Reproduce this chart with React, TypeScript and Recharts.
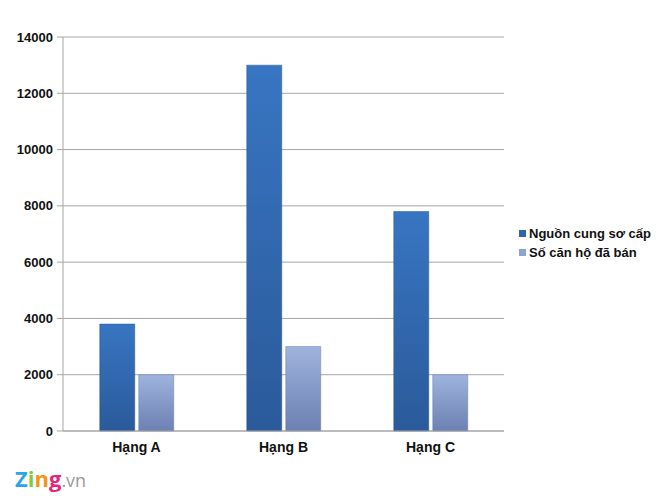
import React from "react";
import { BarChart, Bar, XAxis, YAxis, CartesianGrid, Legend } from "recharts";

const categories = ["Hạng A", "Hạng B", "Hạng C"];
const supply = [3800, 13000, 7800];
const sold = [2000, 3000, 2000];
const yTicks = [0, 2000, 4000, 6000, 8000, 10000, 12000, 14000];
const seriesNames = ["Nguồn cung sơ cấp", "Số căn hộ đã bán"];

const data = categories.map((c, i) => ({ name: c, supply: supply[i], sold: sold[i] }));

const FONT = "'Liberation Sans', Arial, sans-serif";

const LegendContent = () => (
  <div style={{ fontFamily: FONT, fontWeight: "bold", fontSize: 13, color: "#111" }}>
    {seriesNames.map((n, i) => (
      <div key={n} style={{ display: "flex", alignItems: "center", height: 19 }}>
        <span
          style={{
            display: "inline-block",
            width: 7,
            height: 7,
            marginRight: 3,
            background: i === 0 ? "#2f65ad" : "#8ea3d3",
          }}
        />
        {n}
      </div>
    ))}
  </div>
);

export default function App() {
  return (
    <div style={{ position: "absolute", left: 0, top: 0, width: 660, height: 500, background: "#fff" }}>
      <BarChart
        width={660}
        height={500}
        data={data}
        margin={{ top: 37, right: 16, bottom: 39, left: 0 }}
        barCategoryGap="25%"
        barGap={4}
      >
        <defs>
          <linearGradient id="gDark" x1="0" y1="0" x2="0" y2="1">
            <stop offset="0" stopColor="#3875c2" />
            <stop offset="1" stopColor="#2a5a9a" />
          </linearGradient>
          <linearGradient id="gLight" x1="0" y1="0" x2="0" y2="1">
            <stop offset="0" stopColor="#9fb3de" />
            <stop offset="1" stopColor="#6c80b2" />
          </linearGradient>
        </defs>
        <CartesianGrid vertical={false} stroke="#a6a6a6" strokeWidth={1} />
        <XAxis
          dataKey="name"
          height={30}
          stroke="#a6a6a6"
          tickLine={false}
          tick={{ fill: "#111", fontFamily: FONT, fontWeight: "bold", fontSize: 14 }}
          tickMargin={5}
        />
        <YAxis
          width={63}
          domain={[0, 14000]}
          ticks={yTicks}
          stroke="#a6a6a6"
          tickSize={6}
          tickMargin={4}
          tick={{ fill: "#111", fontFamily: FONT, fontWeight: "bold", fontSize: 13 }}
        />
        <Legend
          layout="vertical"
          align="right"
          verticalAlign="top"
          content={LegendContent}
          wrapperStyle={{ position: "absolute", left: 519, top: 224, width: 140 }}
        />
        <Bar dataKey="supply" name={seriesNames[0]} fill="url(#gDark)" stroke="#285694" strokeWidth={0.5} isAnimationActive={false} />
        <Bar dataKey="sold" name={seriesNames[1]} fill="url(#gLight)" stroke="#6a7eb0" strokeWidth={0.5} isAnimationActive={false} />
      </BarChart>
      <div style={{ position: "absolute", left: 15, top: 463, fontFamily: "'Open Sans', Arial, sans-serif", fontSize: 22, fontWeight: "bold", letterSpacing: 0 }}>
        <span style={{ color: "#2aa6e8" }}>Z</span>
        <span style={{ color: "#8cc63f" }}>i</span>
        <span style={{ color: "#f7941d" }}>n</span>
        <span style={{ color: "#e6267a" }}>g</span>
        <span style={{ color: "#9a9a9a", fontWeight: "normal", fontSize: 18 }}>.vn</span>
      </div>
    </div>
  );
}
